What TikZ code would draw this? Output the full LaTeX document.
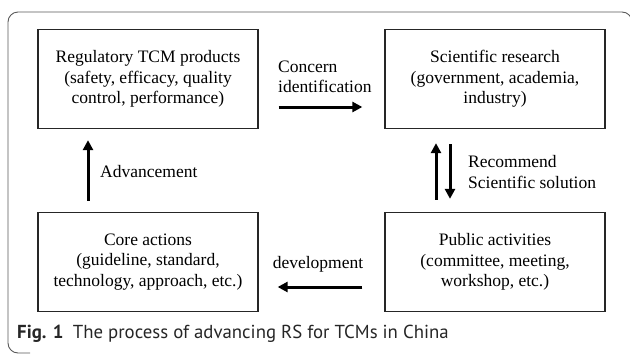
\documentclass[tikz,border=0pt]{standalone}
\usepackage{fontspec}
\setmainfont{Liberation Serif}
\newfontfamily\capfont{PT Sans}
\usetikzlibrary{arrows.meta}
\tikzset{
  boxnode/.style={draw=black!85, line width=1.3pt, minimum width=220pt, minimum height=99pt, align=center, inner sep=0pt, font=\fontsize{17.5}{20.5}\selectfont},
  arr/.style={line width=3pt, -{Triangle[length=10pt,width=10pt]}},
  lbl/.style={inner sep=0pt, font=\fontsize{17.5}{20.5}\selectfont},
}
\begin{document}
\begin{tikzpicture}[x=1pt,y=-1pt]
\useasboundingbox (0,0) rectangle (630,354);
\begin{scope}
\clip (0,0) rectangle (630,354);
\draw[black!65, line width=0.9pt, rounded corners=10pt] (632,40) -- (632,12) -- (8,12) -- (8,353) -- (30,353);
\end{scope}
\node[boxnode] (b1) at (148,79) {Regulatory TCM products\\(safety, efficacy, quality\\control, performance)};
\node[boxnode] (b2) at (495,79) {Scientific research\\(government, academia,\\industry)};
\node[boxnode] (b3) at (148,262) {Core actions\\(guideline, standard,\\technology, approach, etc.)};
\node[boxnode] (b4) at (495,262) {Public activities\\(committee, meeting,\\workshop, etc.)};
\draw[arr, shorten <=20pt, shorten >=22pt] ([yshift=-28pt]b1.east) -- ([yshift=-28pt]b2.west);
\draw[arr, shorten <=11pt, shorten >=11pt] ([xshift=-60pt]b3.north) -- ([xshift=-60pt]b1.south);
\draw[arr, shorten <=12pt, shorten >=14pt] ([xshift=-59pt]b4.north) -- ([xshift=-59pt]b2.south);
\draw[arr, shorten <=15pt, shorten >=13pt] ([xshift=-45pt]b2.south) -- ([xshift=-45pt]b4.north);
\draw[arr, shorten <=22pt, shorten >=19pt] ([yshift=-25pt]b4.west) -- ([yshift=-25pt]b3.east);
\node[lbl, anchor=west, align=left] (l1) at (278,77) {Concern\\identification};
\node[lbl, anchor=west] (l2) at (100,172) {Advancement};
\node[lbl, anchor=west, align=left] (l3) at (468,172) {Recommend\\Scientific solution};
\node[lbl] (l4) at (318,264) {development};
\node[anchor=west, inner sep=0pt, text=black!85, font=\capfont\fontsize{18.8}{21}\selectfont] (cap) at (17,334) {\textbf{Fig. 1}\hspace{0.5em}The process of advancing RS for TCMs in China};
\end{tikzpicture}
\end{document}
